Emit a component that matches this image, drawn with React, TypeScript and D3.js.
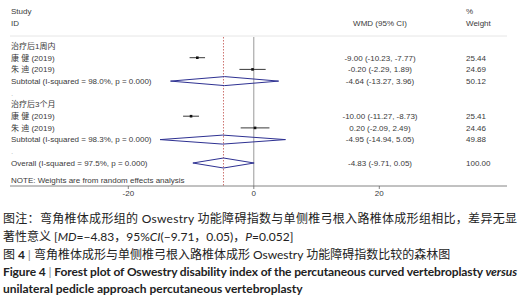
import React from "react";
import * as d3 from "d3";

// ---- data ----
const groupLabels = ["治疗后1周内", "治疗后3个月"];
const studyLabels = ["康  健 (2019)", "朱  迪 (2019)"];
const g1Est = [-9.0, -0.2];
const g1Lo = [-10.23, -2.29];
const g1Hi = [-7.77, 1.89];
const g1W = ["25.44", "24.69"];
const g2Est = [-10.0, 0.2];
const g2Lo = [-11.27, -2.09];
const g2Hi = [-8.73, 2.49];
const g2W = ["25.41", "24.46"];
const subEst = [-4.64, -4.95];
const subLo = [-13.27, -14.94];
const subHi = [3.96, 5.05];
const subW = ["50.12", "49.88"];
const subLabels = ["Subtotal  (I-squared = 98.0%, p = 0.000)", "Subtotal  (I-squared = 98.3%, p = 0.000)"];
const overall = { est: -4.83, lo: -9.71, hi: 0.05, w: "100.00", label: "Overall  (I-squared = 97.5%, p = 0.000)" };
const xTicks = [-20, 0, 20];

const fmt = (v: number) => v.toFixed(2);
const ci = (e: number, l: number, h: number) => `${fmt(e)} (${fmt(l)}, ${fmt(h)})`;

type Row = { kind: "head" | "study" | "sub" | "blank" | "overall"; label: string; est?: number; lo?: number; hi?: number; w?: string };

const rows: Row[] = [];
[ [g1Est, g1Lo, g1Hi, g1W], [g2Est, g2Lo, g2Hi, g2W] ].forEach((g: any, gi) => {
  rows.push({ kind: "head", label: groupLabels[gi] });
  studyLabels.forEach((s, i) => rows.push({ kind: "study", label: s, est: g[0][i], lo: g[1][i], hi: g[2][i], w: g[3][i] }));
  rows.push({ kind: "sub", label: subLabels[gi], est: subEst[gi], lo: subLo[gi], hi: subHi[gi], w: subW[gi] });
  rows.push({ kind: "blank", label: "." });
});
rows.push({ kind: "overall", label: overall.label, est: overall.est, lo: overall.lo, hi: overall.hi, w: overall.w });

export default function App() {
  const x = d3.scaleLinear().domain([-20, 20]).range([128.3, 379.3]);
  const y = d3.scaleLinear().domain([0, 10]).range([46, 163]);
  const fs = 8;
  const tc = "#3a3a3a";
  const blue = "#2e3192";
  const top = 37, axisY = 186;
  const cjk = "'Noto Sans CJK SC', sans-serif";
  const lat = "Lato, 'Noto Sans CJK SC', sans-serif";
  const diamond = (r: Row, yy: number, h: number) => {
    const p = d3.path();
    p.moveTo(x(r.lo!), yy);
    p.lineTo(x(r.est!), yy - h);
    p.lineTo(x(r.hi!), yy);
    p.lineTo(x(r.est!), yy + h);
    p.closePath();
    return p.toString();
  };
  return (
    <svg width={521} height={300} style={{ position: "absolute", left: 0, top: 0, background: "#fff" }}>
      <g fontFamily="'Liberation Sans', Arial, sans-serif" fontSize={fs} fill={tc} style={{ whiteSpace: "pre" }}>
        <text x={11} y={13.5}>Study</text>
        <text x={11} y={25.5}>ID</text>
        <text x={380} y={25.5} textAnchor="middle">WMD (95% CI)</text>
        <text x={466} y={13.5}>%</text>
        <text x={466} y={25.5}>Weight</text>
        <line x1={10} x2={507} y1={36} y2={36} stroke="#e6e6e6" strokeWidth={1} />
        <line x1={x(0)} x2={x(0)} y1={top} y2={axisY} stroke="#999" strokeWidth={1} />
        <line x1={x(overall.est)} x2={x(overall.est)} y1={top} y2={axisY} stroke="#c0504d" strokeWidth={0.8} strokeDasharray="1.5,1.5" />
        {rows.map((r, i) => {
          const yy = y(i);
          const lab = (
            <text key={"l" + i} x={11} y={yy + 2.8} fontFamily={r.kind === "head" || r.kind === "study" ? "'Liberation Sans', 'Noto Sans CJK SC', sans-serif" : undefined} fill={r.kind === "blank" ? "#bbb" : tc}>
              {r.label}
            </text>
          );
          const right = r.est !== undefined ? (
            <g key={"r" + i}>
              <text x={380} y={yy + 2.8} textAnchor="middle">{ci(r.est!, r.lo!, r.hi!)}</text>
              <text x={466} y={yy + 2.8}>{r.w}</text>
            </g>
          ) : null;
          let mark = null;
          if (r.kind === "study") {
            mark = (
              <g key={"m" + i}>
                <line x1={x(r.lo!)} x2={x(r.hi!)} y1={yy} y2={yy} stroke="#222" strokeWidth={0.9} />
                <rect x={x(r.est!) - 1.3} y={yy - 1.3} width={2.6} height={2.6} fill="#111" />
              </g>
            );
          } else if (r.kind === "sub" || r.kind === "overall") {
            mark = <path key={"m" + i} d={diamond(r, yy, r.kind === "overall" ? 5 : 4.5)} fill="none" stroke={blue} strokeWidth={1} />;
          }
          return <g key={i}>{lab}{right}{mark}</g>;
        })}
        <text x={11} y={182.8}>NOTE: Weights are from random effects analysis</text>
        <line x1={10} x2={507} y1={axisY} y2={axisY} stroke="#666" strokeWidth={0.8} />
        {xTicks.map((t) => (
          <g key={t}>
            <line x1={x(t)} x2={x(t)} y1={axisY} y2={axisY + 3} stroke="#666" strokeWidth={0.8} />
            <text x={x(t)} y={196} textAnchor="middle">{t}</text>
          </g>
        ))}
      </g>
      <g fontSize={12} fill="#222" fontFamily={cjk} style={{ whiteSpace: "pre" }}>
        <text x={3} y={223} textLength={514} lengthAdjust="spacing">图注：弯角椎体成形组的<tspan fontFamily={lat}> Oswestry </tspan>功能障碍指数与单侧椎弓根入路椎体成形组相比，差异无显</text>
        <text x={3} y={241}>著性意义<tspan fontFamily={lat}> [<tspan fontStyle="italic">MD</tspan>=−4.83，95%<tspan fontStyle="italic">CI</tspan>(−9.71，0.05)，<tspan fontStyle="italic">P</tspan>=0.052]</tspan></text>
        <text x={3} y={259}>图<tspan fontFamily={lat} fontWeight="bold"> 4  </tspan><tspan fill="#888" fontFamily={lat}>|  </tspan>弯角椎体成形与单侧椎弓根入路椎体成形<tspan fontFamily={lat}> Oswestry </tspan>功能障碍指数比较的森林图</text>
        <text x={3} y={276} fontFamily={lat} fontWeight="bold" textLength={514} lengthAdjust="spacing">Figure 4 <tspan fill="#888" fontWeight="normal"> | </tspan> Forest plot of Oswestry disability index of the percutaneous curved vertebroplasty <tspan fontStyle="italic">versus</tspan></text>
        <text x={3} y={293} fontFamily={lat} fontWeight="bold">unilateral pedicle approach percutaneous vertebroplasty</text>
      </g>
    </svg>
  );
}
